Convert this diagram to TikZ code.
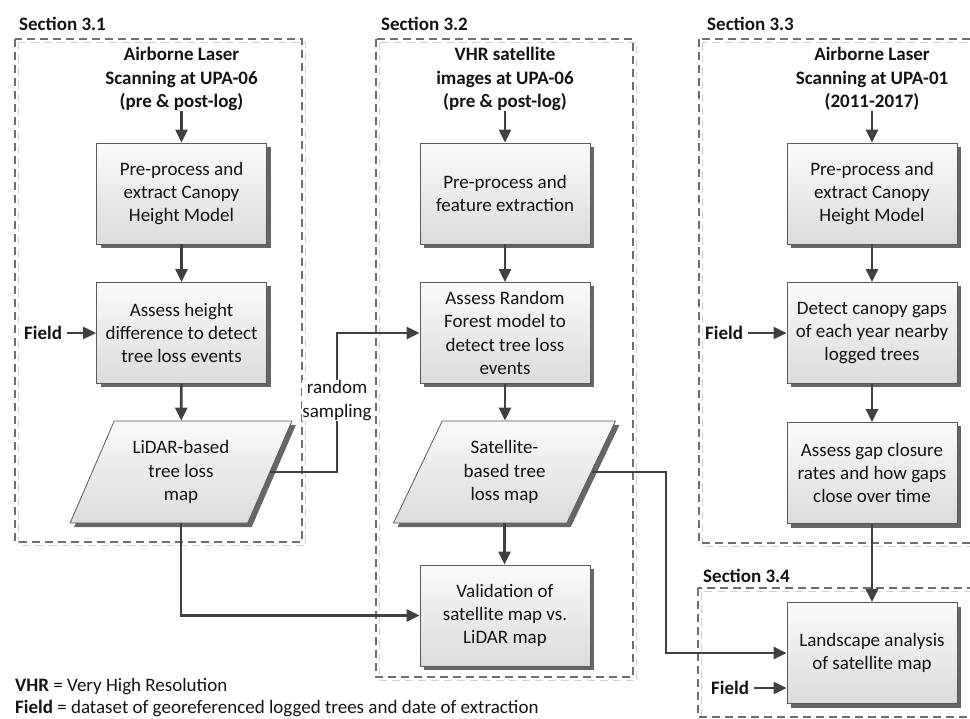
\documentclass[tikz,border=0pt]{standalone}
\usepackage{fontspec}
\setmainfont{Carlito}
\usetikzlibrary{arrows.meta,shapes.geometric,shadows}
\definecolor{ln}{HTML}{404040}
\definecolor{bd}{HTML}{5A5A5A}
\definecolor{fr}{HTML}{6E6E6E}
\definecolor{frs}{HTML}{D2D2D2}
\definecolor{txt}{HTML}{141414}
\begin{document}
\begin{tikzpicture}[x=1pt,y=-1pt,
  font=\fontsize{19}{23.3}\selectfont, text=txt,
  proc/.style={draw=bd, line width=0.8pt, top color=black!2, bottom color=black!14,
    minimum width=170pt, minimum height=101pt, align=center, inner sep=0pt,
    drop shadow={shadow xshift=4pt,shadow yshift=-4pt,fill=black!60,opacity=1}},
  data/.style={proc, shape=trapezium, trapezium left angle=63, trapezium right angle=117,
    trapezium stretches=true, minimum width=222pt, minimum height=102pt},
  conn/.style={draw=ln, line width=2.6pt},
  arr/.style={conn, -{Triangle[length=13pt,width=12pt]}},
  farr/.style={draw=ln, line width=2pt, -{Triangle[length=13pt,width=12pt]}},
  hd/.style={font=\fontsize{19}{23.3}\selectfont\bfseries, anchor=west, inner sep=0pt},
  ttl/.style={font=\fontsize{19}{23.3}\selectfont\bfseries, align=center, inner sep=0pt},
  lgd/.style={anchor=west, inner sep=0pt},
  frame/.style={draw=fr, dash pattern=on 8pt off 5pt, line width=1.2pt},
  frameshadow/.style={draw=frs, dash pattern=on 8pt off 5pt, line width=1.2pt}]
\useasboundingbox (0,0) rectangle (970,719);
\clip (0,0) rectangle (970,719);

% frames
\draw[frameshadow] (18.5,42.5) rectangle (305.5,545.5);
\draw[frame] (15,39) rectangle (302,542);
\draw[frameshadow] (379.5,42.5) rectangle (636.5,680.5);
\draw[frame] (376,39) rectangle (633,677);
\draw[frameshadow] (702.5,42.5) rectangle (1000,546.5);
\draw[frame] (699,39) rectangle (1000,543);
\draw[frameshadow] (701.5,591.5) rectangle (1000,720.5);
\draw[frame] (698,588) rectangle (1000,717);

% section headings
\node[hd] (s1) at (19,24) {Section 3.1};
\node[hd] (s2) at (381,24) {Section 3.2};
\node[hd] (s3) at (707,24) {Section 3.3};
\node[hd] (s4) at (703,576) {Section 3.4};

% column 1
\node[ttl] (ta) at (181.5,79) {Airborne Laser\\Scanning at UPA-06\\(pre \& post-log)};
\node[proc] (a1) at (181.5,193.5) {Pre-process and\\extract Canopy\\Height Model};
\node[proc] (a2) at (181.5,333) {Assess height\\difference to detect\\tree loss events};
\node[data] (a3) at (181,472) {LiDAR-based\\tree loss\\map};
\node[hd] (f1) at (24,333) {Field};

% column 2
\node[ttl] (tb) at (505,79) {VHR satellite\\images at UPA-06\\(pre \& post-log)};
\node[proc] (b1) at (505,193.5) {Pre-process and\\feature extraction};
\node[proc] (b2) at (505,333) {Assess Random\\Forest model to\\detect tree loss\\events};
\node[data] (b3) at (504.5,472) {Satellite-\\based tree\\loss map};
\node[proc] (b4) at (505,615.5) {Validation of\\satellite map vs.\\LiDAR map};

% column 3
\node[ttl] (tc) at (872,79) {Airborne Laser\\Scanning at UPA-01\\(2011-2017)};
\node[proc] (c1) at (872,193.5) {Pre-process and\\extract Canopy\\Height Model};
\node[proc] (c2) at (872,333) {Detect canopy gaps\\of each year nearby\\logged trees};
\node[proc] (c3) at (872,473) {Assess gap closure\\rates and how gaps\\close over time};
\node[hd] (f3) at (705,333) {Field};

% column 4
\node[proc] (c4) at (872,653) {Landscape analysis\\of satellite map};
\node[hd] (f4) at (711,688) {Field};

% helper coordinates
\coordinate (rsx) at (337,0);
\coordinate (jx) at (666,0);

% connectors
\draw[arr] (ta.south) -- (a1.north);
\draw[arr] (a1) -- (a2);
\draw[arr] (a2) -- (a3);
\draw[farr] ([xshift=5pt]f1.east) -- (a2.west);
\draw[arr] (tb.south) -- (b1.north);
\draw[arr] (b1) -- (b2);
\draw[arr] (b2) -- (b2.south |- b3.north);
\draw[arr] (b3.south) -- (b3.south |- b4.north);
\draw[arr] (tc.south) -- (c1.north);
\draw[arr] (c1) -- (c2);
\draw[arr] (c2) -- (c3);
\draw[farr] ([xshift=5pt]f3.east) -- (f3.east -| c2.west);
\draw[arr] (c3) -- (c4);
\draw[farr] ([xshift=5pt]f4.east) -- (f4.east -| c4.west);
\draw[arr] (a3.east) -- (a3.east -| rsx) |- (b2.west);
\node[fill=white, inner xsep=0pt, inner ysep=1pt, align=center] (rl) at (337,400.5) {random\\sampling};
\draw[arr] (a3.south) |- (b4.west);
\draw[arr] (b3.east) -- (b3.east -| jx) |- (c4.west);

% legend
\node[lgd] (l1) at (15,687) {\textbf{VHR} = Very High Resolution};
\node[lgd] (l2) at (15,708) {\textbf{Field} = dataset of georeferenced logged trees and date of extraction};
\end{tikzpicture}
\end{document}
